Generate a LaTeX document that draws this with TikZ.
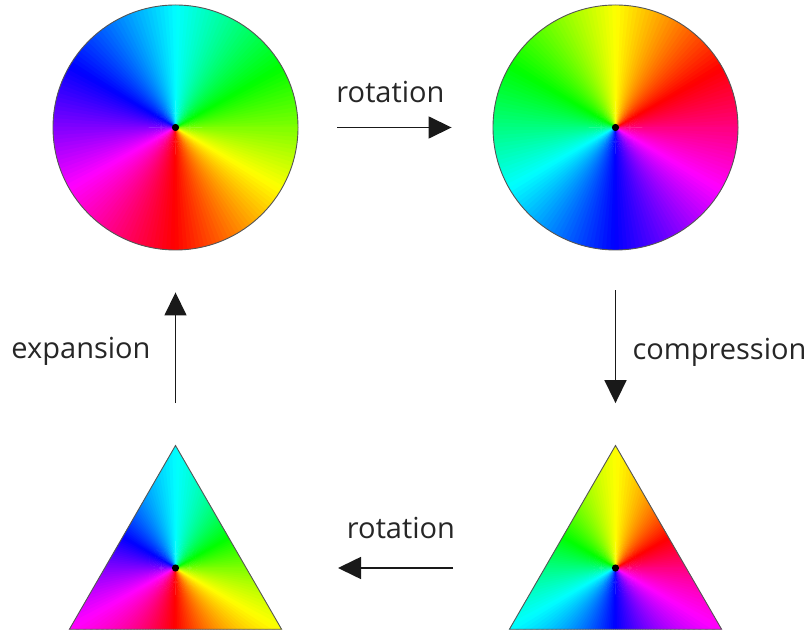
\documentclass[tikz,border=0pt]{standalone}
\usepackage{fontspec}
\setmainfont{Open Sans}
\usetikzlibrary{arrows.meta,shapes.geometric}
\definecolor{ctexto}{HTML}{262626}
\definecolor{cborde}{HTML}{555555}
% hue wedges round (0,0), hue = angle + #1
\newcommand\ruedahue[1]{%
  \foreach \a in {0,2,...,358}{%
    \pgfmathtruncatemacro{\h}{mod(\a+1+#1+720,360)}%
    \pgfmathsetmacro{\aa}{\a-0.4}%
    \pgfmathsetmacro{\ab}{\a+2.4}%
    \pgfmathsetmacro{\ac}{\a+181}%
    \definecolor{chue}{Hsb}{\h,1,1}%
    \fill[chue] (\ac:3) -- (\aa:140) -- (\ab:140) -- cycle;
  }}
\tikzset{
  disco/.style={circle,draw=cborde,line width=0.9pt,minimum size=245pt,inner sep=0pt},
  tri/.style={regular polygon,regular polygon sides=3,draw=cborde,line width=0.9pt,
              minimum size=245pt,inner sep=0pt},
  rueda/.style={path picture={\begin{scope}[shift={(path picture bounding box.center)}]
                \ruedahue{#1}\end{scope}}},
  ruedat/.style={path picture={\begin{scope}[shift={(path picture bounding box.south)},yshift=61.25pt]
                \ruedahue{#1}\end{scope}}},
  punto/.style={fill=black},
  flecha/.style={-{Triangle[length=23pt,width=22pt]},line width=1.6pt,draw=black!90},
  et/.style={font=\fontsize{29}{34}\selectfont,text=ctexto,inner sep=0pt,anchor=base},
}
\begin{document}
\begin{tikzpicture}[x=1pt,y=1pt]
\useasboundingbox (0,0) rectangle (811,635);

% discos y triangulos
\node[disco,rueda=90]   (circA) at (175.5,507.5) {};
\node[disco,rueda=-30]  (circB) at (615.5,507.5) {};
\node[tri,ruedat=90]    (triA)  at (175.5,67) {};
\node[tri,ruedat=-30]   (triB)  at (615.5,67) {};
\foreach \n in {circA,circB,triA,triB}
  \fill[punto] (\n.center) circle (3.6);

% etiquetas
\node[et] (rotA) at (390.5,532) {rotation};
\node[et] (comp) at (719.5,275) {compression};
\node[et] (rotB) at (401,97)    {rotation};
\node[et] (expa) at (81,276)    {expansion};

% flechas
\draw[flecha,shorten <=39pt,shorten >=41pt]       (circA) -- (circB);
\draw[flecha,shorten <=40pt,shorten >=41.5pt]     (circB) -- (triB);
\draw[flecha,shorten <=162.5pt,shorten >=162.5pt] (triB.center) -- (triA.center);
\draw[flecha,shorten <=41.5pt,shorten >=42pt]     (triA) -- (circA);

\end{tikzpicture}
\end{document}
